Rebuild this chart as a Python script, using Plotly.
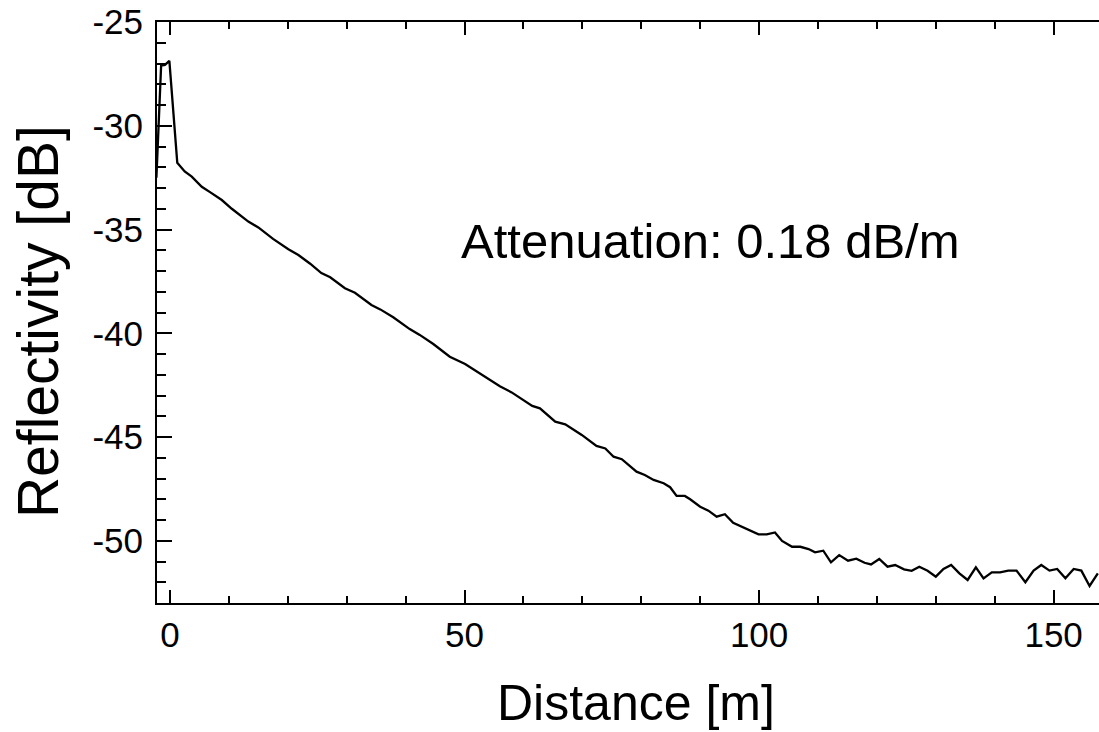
import plotly.graph_objects as go

distance_m = [
    -2.3, -1.5, -0.85, -0.1, 1.24, 2.5, 3.7, 5.4, 6.8, 8.8,
    10.5, 12.0, 13.3, 15.0, 17.5, 20.1, 21.8, 23.8, 25.7, 27.2,
    29.7, 31.4, 34.2, 35.7, 37.9, 40.7, 42.4, 44.7, 47.5, 50.1,
    52.2, 54.3, 56.0, 58.0, 60.0, 61.5, 62.8, 65.4, 67.1, 68.5,
    69.9, 72.4, 73.9, 75.3, 76.7, 79.2, 80.6, 82.1, 83.8, 84.9,
    86.0, 87.4, 88.3, 90.0, 91.4, 92.8, 94.2, 95.6, 97.8, 99.9,
    101.3, 102.7, 103.9, 105.6, 107.0, 108.4, 109.5, 110.9, 112.2, 113.6,
    115.1, 116.5, 117.9, 119.0, 120.4, 121.8, 123.1, 124.6, 125.9, 127.2,
    128.6, 130.0, 131.3, 132.6, 134.0, 135.4, 136.8, 138.1, 139.5, 140.9,
    142.3, 143.7, 145.2, 146.6, 147.9, 149.3, 150.6, 152.0, 153.4, 154.7,
    156.1, 157.5,
]

reflectivity_db = [
    -32.5, -27.1, -27.07, -26.87, -31.78, -32.2, -32.45, -32.94, -33.2, -33.58,
    -34.0, -34.35, -34.62, -34.9, -35.45, -35.95, -36.23, -36.65, -37.1, -37.3,
    -37.83, -38.05, -38.64, -38.85, -39.23, -39.8, -40.08, -40.52, -41.13, -41.48,
    -41.85, -42.25, -42.55, -42.85, -43.2, -43.5, -43.62, -44.26, -44.39, -44.66,
    -44.9, -45.43, -45.55, -45.95, -46.07, -46.67, -46.83, -47.07, -47.23, -47.42,
    -47.84, -47.84, -48.0, -48.36, -48.55, -48.84, -48.72, -49.13, -49.4, -49.69,
    -49.69, -49.6, -50.01, -50.29, -50.29, -50.4, -50.56, -50.48, -51.04, -50.69,
    -50.96, -50.86, -51.06, -51.14, -50.88, -51.25, -51.17, -51.38, -51.45, -51.25,
    -51.45, -51.73, -51.36, -51.17, -51.57, -51.89, -51.28, -51.81, -51.52, -51.52,
    -51.44, -51.44, -52.0, -51.44, -51.17, -51.44, -51.36, -51.81, -51.36, -51.44,
    -52.18, -51.57,
]

x_tick_values = [0, 50, 100, 150]
y_tick_values = [-50, -45, -40, -35, -30, -25]
x_label = "Distance [m]"
y_label = "Reflectivity [dB]"
annotation_text = "Attenuation: 0.18 dB/m"

FONT = "Liberation Sans, Arial, Helvetica, sans-serif"

fig = go.Figure()
fig.add_trace(go.Scatter(
    x=distance_m, y=reflectivity_db, mode="lines",
    line=dict(color="black", width=2.3),
    showlegend=False, hoverinfo="skip",
))

fig.add_annotation(
    x=91.8, y=-35.55, xref="x", yref="y",
    text=annotation_text, showarrow=False,
    font=dict(family=FONT, size=49, color="black"),
)

# axis titles placed as paper annotations for exact placement
fig.add_annotation(
    x=0.5085, y=-0.172, xref="paper", yref="paper",
    xanchor="center", yanchor="middle",
    text=x_label, showarrow=False,
    font=dict(family=FONT, size=50, color="black"),
)
fig.add_annotation(
    x=-0.1263, y=0.4836, xref="paper", yref="paper",
    xanchor="center", yanchor="middle", textangle=-90,
    text=y_label, showarrow=False,
    font=dict(family=FONT, size=57, color="black"),
)

fig.update_layout(
    width=1099, height=732,
    margin=dict(l=157, r=0, t=22, b=129),
    paper_bgcolor="white", plot_bgcolor="white",
    font=dict(family=FONT, color="black"),
)

fig.update_xaxes(
    range=[-2.2, 157.7],
    automargin=False,
    tickvals=x_tick_values,
    ticktext=[str(v) for v in x_tick_values],
    ticks="inside", ticklen=13, tickwidth=2, tickcolor="black",
    minor=dict(dtick=10, tick0=0, ticks="inside", ticklen=7, tickwidth=2, tickcolor="black"),
    showline=True, linewidth=2, linecolor="black", mirror="ticks",
    showgrid=False, zeroline=False,
    tickfont=dict(family=FONT, size=35, color="black"),
)

fig.update_yaxes(
    range=[-53.0, -25.0],
    automargin=False,
    tickvals=y_tick_values,
    ticktext=[str(v) for v in y_tick_values],
    ticks="inside", ticklen=15, tickwidth=2, tickcolor="black",
    minor=dict(dtick=1, tick0=0, ticks="inside", ticklen=9, tickwidth=2, tickcolor="black"),
    showline=True, linewidth=2, linecolor="black", mirror=False,
    showgrid=False, zeroline=False,
    ticklabelstandoff=5,
    tickfont=dict(family=FONT, size=35, color="black"),
)

fig.write_html(
    "out.html",
    config={"displayModeBar": False},
    post_script="document.body.style.margin='0';document.body.style.overflow='hidden';",
)
